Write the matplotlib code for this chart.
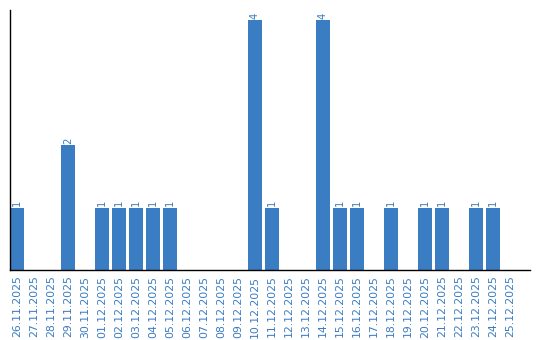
import matplotlib

matplotlib.use("Agg")
import matplotlib.pyplot as plt

DATES = [
    "26.11.2025", "27.11.2025", "28.11.2025", "29.11.2025", "30.11.2025",
    "01.12.2025", "02.12.2025", "03.12.2025", "04.12.2025", "05.12.2025",
    "06.12.2025", "07.12.2025", "08.12.2025", "09.12.2025", "10.12.2025",
    "11.12.2025", "12.12.2025", "13.12.2025", "14.12.2025", "15.12.2025",
    "16.12.2025", "17.12.2025", "18.12.2025", "19.12.2025", "20.12.2025",
    "21.12.2025", "22.12.2025", "23.12.2025", "24.12.2025", "25.12.2025",
]
COUNTS = [1, 0, 0, 2, 0, 1, 1, 1, 1, 1, 0, 0, 0, 0, 4,
          1, 0, 0, 4, 1, 1, 0, 1, 0, 1, 1, 0, 1, 1, 0]

BAR_COLOR = "#3b7dc2"
TEXT_COLOR = "#3a7cc3"

fig = plt.figure(figsize=(5.4, 3.4), dpi=100)
ax = fig.add_axes([10 / 540, 70 / 340, 520 / 540, 260 / 340])

x = list(range(len(DATES)))
ax.bar(x, COUNTS, width=0.82, color=BAR_COLOR)

for xi, v in zip(x, COUNTS):
    if v > 0:
        ax.text(xi, v + 0.02, str(v), rotation=90, ha="center", va="bottom",
                fontsize=7.2, color=TEXT_COLOR)

ax.set_xlim(-0.41, 30.18)
ax.set_ylim(0, 4.16)
ax.set_xticks(x)
ax.set_xticklabels(DATES, rotation=90, fontsize=7.8, color=TEXT_COLOR)
ax.tick_params(axis="x", length=0, pad=4)
ax.set_yticks([])
ax.spines["top"].set_visible(False)
ax.spines["right"].set_visible(False)
ax.spines["left"].set_linewidth(1.0)
ax.spines["bottom"].set_linewidth(1.0)

fig.savefig("out.png", dpi=100)
plt.close(fig)
